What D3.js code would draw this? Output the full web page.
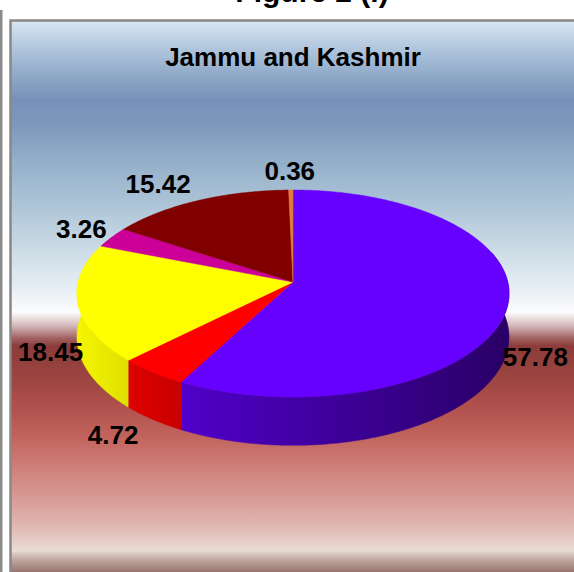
<!DOCTYPE html>
<html>
<head>
<meta charset="utf-8">
<script src="https://cdn.jsdelivr.net/npm/d3@7.9.0/dist/d3.min.js"></script>
<style>
  body { margin: 0; background: #fff; }
  svg { display: block; font-family: "Liberation Sans", Arial, sans-serif; }
</style>
</head>
<body>
<svg id="chart" width="574" height="572"></svg>
<script>
// slice values (percent), clockwise from 12 o'clock
const sliceValues = [57.78, 4.72, 18.45, 3.26, 15.42, 0.36];
const sliceColors = ['#6600ff', '#ff0000', '#ffff00', '#cc0099', '#800000', '#e07a3a'];
const chartTitle = 'Jammu and Kashmir';
const figureTitle = 'Figure 2 (i)';

const svg = d3.select('#chart');
const defs = svg.append('defs');

// background band colours, by page y
const bgStops = [
  [20, '#dce8f4'], [32, '#c8d9ea'], [55, '#a8bfd8'], [80, '#8aa4c4'], [100, '#7890b8'],
  [125, '#7e98bc'], [160, '#92aec8'], [200, '#aac2d6'], [250, '#ccdbe6'], [290, '#e8eff4'],
  [312, '#fcfcfd'], [318, '#ecdede'], [325, '#d6bcbc'], [332, '#bb8e8e'], [338, '#a26262'],
  [346, '#8c3c3a'], [375, '#9a4440'], [410, '#b2524e'], [440, '#c46660'], [470, '#cf837c'],
  [500, '#d89c96'], [530, '#e2bcb6'], [551, '#ebdcd6'], [553, '#dccac4'], [561, '#bea29c'],
  [567, '#a88a84'], [572, '#967470']
];

const bg = defs.append('linearGradient')
  .attr('id', 'bg').attr('gradientUnits', 'userSpaceOnUse')
  .attr('x1', 0).attr('x2', 0).attr('y1', 20).attr('y2', 572);
bg.selectAll('stop').data(bgStops).join('stop')
  .attr('offset', d => (d[0] - 20) / 552)
  .attr('stop-color', d => d[1]);

// outer page line and the chart frame
svg.append('rect').attr('x', 0).attr('y', 10).attr('width', 2.5).attr('height', 600).attr('fill', '#8a8a8a');
svg.append('rect').attr('x', 10.5).attr('y', 20.5).attr('width', 600).attr('height', 600)
  .attr('fill', 'url(#bg)').attr('stroke', '#888').attr('stroke-width', 2.5);

svg.append('text').attr('x', 312).attr('y', 2).attr('text-anchor', 'middle')
  .attr('font-size', 30).attr('font-weight', 'bold').text(figureTitle);

svg.append('text').attr('x', 293).attr('y', 66).attr('text-anchor', 'middle')
  .attr('font-size', 26).attr('font-weight', 'bold').text(chartTitle);

// 3D pie projection (slight perspective, viewed from above)
const cx = 293, cy = 282, KX = 214.7, KY = 102.2, P = 0.111, H = 43;
function project(a, r, h) {
  const X = r * Math.cos(a), Z = r * Math.sin(a), w = 1 - P * Z;
  return [cx + KX * X / w, cy + (KY * Z + H * h) / w];
}
function arcPts(a0, a1, h) {
  const n = Math.max(2, Math.ceil(Math.abs(a1 - a0) / 0.01));
  return d3.range(n + 1).map(i => project(a0 + (a1 - a0) * i / n, 1, h));
}

const pie = d3.pie().sort(null).value(d => d).startAngle(0).endAngle(2 * Math.PI);
const arcs = pie(sliceValues).map((d, i) => ({
  value: d.value,
  color: sliceColors[i],
  i,
  a0: d.startAngle - Math.PI / 2,
  a1: d.endAngle - Math.PI / 2
}));

// side shading gradients, darker to the right
const shade = [[0, 0.96], [0.12, 0.87], [0.25, 0.78], [1, 0.40]];
arcs.forEach(d => {
  const g = defs.append('linearGradient').attr('id', 'side' + d.i)
    .attr('gradientUnits', 'userSpaceOnUse')
    .attr('x1', cx - KX).attr('x2', cx + KX).attr('y1', 0).attr('y2', 0);
  g.selectAll('stop').data(shade).join('stop')
    .attr('offset', s => s[0])
    .attr('stop-color', s => d3.interpolateRgb('#000', d.color)(s[1]));
});

const line = d3.line();
const pieG = svg.append('g');

// visible outer sides
arcs.forEach(d => {
  const b0 = Math.max(d.a0, -0.3), b1 = Math.min(d.a1, Math.PI + 0.3);
  if (b1 <= b0) return;
  const top = arcPts(b0, b1, 0);
  const bot = arcPts(b1, b0, 1);
  pieG.append('path')
    .attr('d', line(top.concat(bot)) + 'Z')
    .attr('fill', `url(#side${d.i})`)
    .attr('stroke', `url(#side${d.i})`).attr('stroke-width', 0.5);
});

// top faces
arcs.forEach(d => {
  const pts = [project(0, 0, 0)].concat(arcPts(d.a0, d.a1, 0));
  pieG.append('path')
    .attr('d', line(pts) + 'Z')
    .attr('fill', d.color)
    .attr('stroke', d.color).attr('stroke-width', 0.5);
});

// data labels, outside end
const fs = 26;
arcs.forEach(d => {
  const mid = (d.a0 + d.a1) / 2;
  const c = Math.cos(mid), s = Math.sin(mid);
  const anchor = project(mid, 1, s > 0 ? 1 : 0);
  const txt = d.value.toFixed(2);
  const tw = txt.length * fs * 0.52, th = fs * 0.72;
  const x = anchor[0] + c * (tw / 2 - 9) + 75 * c * s * s;
  const y = anchor[1] + s * (th / 2 + 10);
  svg.append('text')
    .attr('x', x).attr('y', y).attr('dy', '0.36em')
    .attr('text-anchor', 'middle')
    .attr('font-size', fs).attr('font-weight', 'bold')
    .text(txt);
});
</script>
</body>
</html>
